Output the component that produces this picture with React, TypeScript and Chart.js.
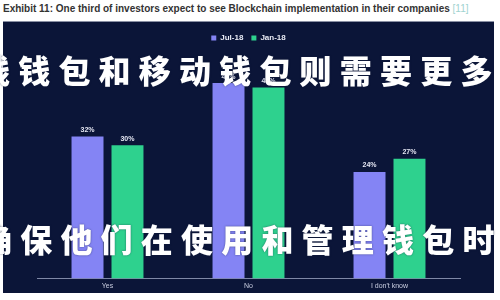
import React, { useEffect, useRef } from "react";
import { Chart, registerables } from "chart.js";

Chart.register(...registerables);

const titleText =
  "Exhibit 11: One third of investors expect to see Blockchain implementation in their companies";
const titleRef = "[11]";

const categories = ["Yes", "No", "I don't know"];
const seriesNames = ["Jul-18", "Jan-18"];
const jul18 = [32, 44, 24];
const jan18 = [30, 43, 27];
const seriesColors = ["#8484f4", "#2ed18e"];

const bannerTop = "线钱包和移动钱包则需要更多";
const bannerBottom = "确保他们在使用和管理钱包时";

const valueLabels = {
  id: "valueLabels",
  afterDatasetsDraw(chart: Chart) {
    const { ctx } = chart;
    ctx.save();
    ctx.font = "bold 7px 'Liberation Sans', Arial, sans-serif";
    ctx.fillStyle = "#e4e6f2";
    ctx.textAlign = "center";
    ctx.textBaseline = "bottom";
    chart.data.datasets.forEach((ds, i) => {
      const meta = chart.getDatasetMeta(i);
      meta.data.forEach((el: any, j: number) => {
        const v = ds.data[j] as number;
        ctx.fillText(`${v}%`, el.x, el.y - 3);
      });
    });
    ctx.restore();
  },
};

export default function App() {
  const canvasRef = useRef<HTMLCanvasElement | null>(null);

  useEffect(() => {
    if (!canvasRef.current) return;
    const chart = new Chart(canvasRef.current, {
      type: "bar",
      data: {
        labels: categories,
        datasets: [
          {
            label: seriesNames[0],
            data: jul18,
            backgroundColor: seriesColors[0],
            categoryPercentage: 0.567,
            barPercentage: 0.8,
          },
          {
            label: seriesNames[1],
            data: jan18,
            backgroundColor: seriesColors[1],
            categoryPercentage: 0.567,
            barPercentage: 0.8,
          },
        ],
      },
      options: {
        animation: false,
        responsive: false,
        maintainAspectRatio: false,
        layout: { padding: { left: 34, right: 34, top: 4, bottom: 0 } },
        plugins: {
          legend: {
            display: true,
            position: "top",
            labels: {
              boxWidth: 5,
              boxHeight: 5,
              padding: 8,
              color: "#e8eaf4",
              font: { size: 8, weight: "bold", family: "'Liberation Sans', Arial, sans-serif" },
            },
          },
          tooltip: { enabled: false },
        },
        scales: {
          x: {
            grid: { display: false, drawTicks: false },
            border: { display: true, color: "#7f88a6", width: 1 },
            ticks: {
              color: "#c9cde0",
              padding: 3,
              font: { size: 7, family: "'Liberation Sans', Arial, sans-serif" },
            },
          },
          y: {
            display: false,
            min: 0,
            max: 51,
          },
        },
      },
      plugins: [valueLabels],
    });
    return () => chart.destroy();
  }, []);

  const bannerStyle: React.CSSProperties = {
    position: "absolute",
    whiteSpace: "nowrap",
    color: "#ffffff",
    fontFamily: "'Noto Sans CJK SC', sans-serif",
    fontWeight: 900,
    fontSize: 32,
    lineHeight: "34px",
    letterSpacing: 8.2,
    textShadow: "0 0 2px rgba(20,30,60,0.6)",
  };

  return (
    <div
      style={{
        position: "fixed",
        left: 0,
        top: 0,
        width: 500,
        height: 300,
        background: "#ffffff",
        overflow: "hidden",
      }}
    >
      <div
        style={{
          position: "absolute",
          left: 3,
          top: 3,
          whiteSpace: "nowrap",
          fontFamily: "'Liberation Sans', Arial, sans-serif",
          fontWeight: "bold",
          fontSize: 10,
          color: "#333333",
        }}
      >
        {titleText} <span style={{ color: "#9fd3d0", fontWeight: "normal" }}>{titleRef}</span>
      </div>
      <div
        style={{
          position: "absolute",
          left: 3,
          top: 21,
          width: 491,
          height: 272,
          background: "#0b1538",
          borderTop: "1px solid #8a90a4",
          boxSizing: "border-box",
        }}
      >
        <canvas ref={canvasRef} width={491} height={271} style={{ display: "block" }} />
      </div>
      <div style={{ ...bannerStyle, left: -22, top: 52 }}>{bannerTop}</div>
      <div style={{ ...bannerStyle, left: -20, top: 221 }}>{bannerBottom}</div>
    </div>
  );
}
